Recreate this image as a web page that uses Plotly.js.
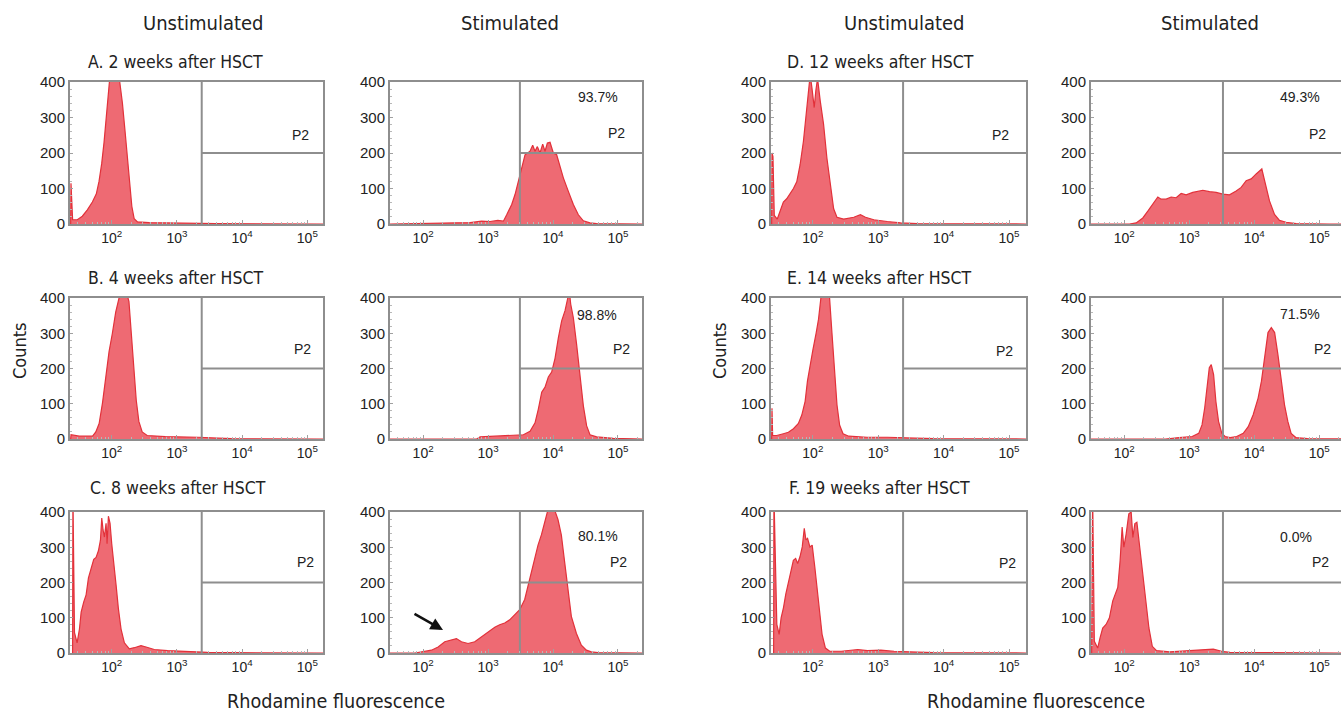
<!DOCTYPE html>
<html><head><meta charset="utf-8">
<script src="https://cdn.plot.ly/plotly-3.0.1.min.js"></script>
<style>html,body{margin:0;padding:0;background:#fff;}#chart{width:1341px;height:717px;}</style>
</head><body><div id="chart"></div>
<script>
// ---- Data: log10(Rhodamine fluorescence) positions and event counts ----
const aUnstimLog = [1.37,1.375,1.40,1.472,1.549,1.626,1.703,1.764,1.805,1.846,1.882,1.918,1.949,1.974,2.036,2.087,2.123,2.164,2.205,2.241,2.277,2.308,2.344,2.395,2.574,2.83,3.138,3.344,3.6,5.24];
const aUnstimCounts = [0,115,12,12,22,40,62,85,120,170,230,300,360,420,470,440,400,340,260,180,110,50,15,6,4,3,3,2,1,0];
const aStimLog = [1.49,2.108,2.723,2.9,3.031,3.15,3.236,3.287,3.364,3.415,3.467,3.518,3.569,3.646,3.687,3.723,3.759,3.8,3.841,3.877,3.913,3.954,4.005,4.056,4.108,4.159,4.236,4.313,4.39,4.467,4.569,4.672,5.37];
const aStimCounts = [0,1,4,8,7,10,8,26,55,83,120,158,195,205,222,205,218,200,225,205,228,230,200,195,158,130,92,55,26,9,3,1,0];

const bUnstimLog = [1.37,1.376,1.503,1.706,1.756,1.807,1.858,1.909,1.959,2.01,2.061,2.112,2.162,2.213,2.264,2.3,2.34,2.376,2.416,2.467,2.543,2.822,3.33,3.584,3.838,5.24];
const bUnstimCounts = [0,12,8,8,20,44,102,170,248,300,360,400,430,425,390,300,200,110,50,20,10,7,5,3,1,0];
const bStimLog = [1.49,2.826,2.877,3.133,3.441,3.544,3.646,3.723,3.774,3.826,3.877,3.928,3.979,4.031,4.082,4.133,4.185,4.221,4.251,4.272,4.313,4.364,4.415,4.467,4.518,4.569,4.672,4.928,5.37];
const bStimCounts = [0,0,6,8,10,12,22,46,85,133,147,176,190,229,287,335,364,400,420,383,344,267,171,94,37,12,6,2,0];

const cUnstimLog = [1.40,1.405,1.429,1.469,1.505,1.531,1.571,1.607,1.643,1.684,1.724,1.76,1.796,1.827,1.847,1.867,1.888,1.913,1.929,1.949,1.974,2.0,2.031,2.066,2.102,2.143,2.194,2.27,2.347,2.449,2.526,2.653,2.857,3.163,3.469,3.878,5.24];
const cUnstimCounts = [0,450,58,29,68,116,145,165,213,242,266,271,290,320,383,349,329,368,310,388,368,310,262,194,126,68,29,12,15,21,17,10,7,4,2,1,0];
const cStimLog = [1.49,1.872,2.128,2.231,2.333,2.436,2.513,2.59,2.692,2.795,2.897,2.999,3.103,3.179,3.256,3.333,3.41,3.487,3.564,3.615,3.667,3.718,3.769,3.821,3.872,3.913,3.974,4.026,4.077,4.128,4.179,4.231,4.282,4.359,4.436,4.513,4.59,4.692,5.37];
const cStimCounts = [0,0,8,17,32,37,41,32,27,32,46,61,73,80,85,94,109,123,152,190,229,267,306,335,373,400,420,405,378,335,258,171,104,56,22,8,3,1,0];

const dUnstimLog = [1.37,1.375,1.39,1.41,1.456,1.497,1.549,1.6,1.651,1.703,1.754,1.805,1.856,1.897,1.933,1.959,1.985,2.021,2.046,2.072,2.113,2.164,2.215,2.267,2.318,2.369,2.472,2.626,2.728,2.805,2.933,3.138,3.344,3.6,5.26];
const dUnstimCounts = [0,200,190,24,14,33,62,71,86,100,119,167,233,309,376,420,385,328,376,410,347,281,186,110,43,19,14,19,26,19,12,7,3,1,0];
const dStimLog = [1.49,2.082,2.185,2.287,2.364,2.441,2.518,2.569,2.646,2.723,2.8,2.877,2.954,3.056,3.133,3.21,3.313,3.415,3.518,3.621,3.723,3.8,3.877,3.954,4.031,4.082,4.118,4.149,4.185,4.236,4.313,4.39,4.492,4.646,5.159,5.4];
const dStimCounts = [0,0,3,17,36,55,76,70,70,76,74,86,82,89,91,95,91,89,84,82,93,103,122,127,141,150,155,131,103,65,27,10,5,1,0,0];

const eUnstimLog = [1.37,1.375,1.385,1.446,1.549,1.626,1.703,1.779,1.831,1.882,1.918,1.959,2.0,2.051,2.087,2.123,2.164,2.215,2.256,2.292,2.328,2.369,2.41,2.462,2.549,2.831,3.138,3.446,3.856,5.26];
const eUnstimCounts = [0,87,10,10,15,19,29,44,68,107,165,214,252,301,340,400,420,420,400,301,194,97,39,15,8,5,5,3,1,0];
const eStimLog = [1.49,2.64,2.843,3.046,3.147,3.198,3.239,3.274,3.31,3.34,3.376,3.411,3.452,3.503,3.553,3.629,3.731,3.832,3.909,3.985,4.061,4.112,4.162,4.213,4.264,4.315,4.365,4.416,4.467,4.518,4.569,4.645,4.822,5.4];
const eStimCounts = [0,0,4,7,16,40,88,154,202,211,183,107,50,16,7,4,7,16,35,69,116,164,230,302,316,302,240,164,97,50,16,4,1,0];

const fUnstimLog = [1.40,1.405,1.449,1.485,1.515,1.551,1.586,1.626,1.667,1.702,1.737,1.768,1.803,1.838,1.869,1.894,1.919,1.955,1.99,2.03,2.071,2.106,2.141,2.192,2.258,2.434,2.687,2.838,3.04,3.242,3.444,3.848,5.26];
const fUnstimCounts = [0,450,81,53,100,129,167,196,234,263,268,254,273,301,354,321,325,301,306,244,167,110,53,14,5,5,10,7,8,5,3,1,0];
const fStimLog = [1.50,1.515,1.541,1.593,1.629,1.67,1.722,1.773,1.825,1.866,1.902,1.938,1.969,1.995,2.031,2.072,2.108,2.134,2.165,2.196,2.227,2.263,2.299,2.34,2.381,2.433,2.495,2.701,3.01,3.216,3.371,3.5,3.629,4.144,5.4];
const fStimCounts = [0,450,33,14,43,71,81,100,148,167,186,262,357,300,338,395,400,328,367,371,319,262,214,148,71,19,7,3,7,10,11,5,2,1,0];

const panelTitles = ['A. 2 weeks after HSCT','B. 4 weeks after HSCT','C. 8 weeks after HSCT','D. 12 weeks after HSCT','E. 14 weeks after HSCT','F. 19 weeks after HSCT'];
const positivePct = ['93.7%','98.8%','80.1%','49.3%','71.5%','0.0%'];
const gateLabel = 'P2';
const columnHeads = ['Unstimulated','Stimulated','Unstimulated','Stimulated'];
const gateLogByColumn = [3.38, 3.49, 3.38, 3.52];
const gateCount = 200;
const yTickVals = [0,100,200,300,400];
const xTickVals = [100,1000,10000,100000];
const xTickText = ['10<sup>2</sup>','10<sup>3</sup>','10<sup>4</sup>','10<sup>5</sup>'];

const unstimSeries = [[aUnstimLog,aUnstimCounts],[bUnstimLog,bUnstimCounts],[cUnstimLog,cUnstimCounts],[dUnstimLog,dUnstimCounts],[eUnstimLog,eUnstimCounts],[fUnstimLog,fUnstimCounts]];
const stimSeries = [[aStimLog,aStimCounts],[bStimLog,bStimCounts],[cStimLog,cStimCounts],[dStimLog,dStimCounts],[eStimLog,eStimCounts],[fStimLog,fStimCounts]];

// ---- Layout geometry (pixels) ----
const W = 1341, H = 717;
const colPx = [[70,323],[390,642],[771,1026],[1091,1341]];
const rowPx = [[82,224],[298,439],[512,653]];
const colRange = [[1.36,5.24],[1.49,5.37],[1.36,5.26],[1.49,5.336]];
const NARROW = 'DejaVu Sans Condensed, Liberation Sans, sans-serif';
const REG = 'Liberation Sans, Arial, sans-serif';
const TXT = '#222';
const GRAY = '#8e8e8e';
const px = v => v / W;
const py = v => 1 - v / H;

const traces = [];
const layout = {
  width: W, height: H, margin: {l:0,r:0,t:0,b:0},
  paper_bgcolor: '#fff', plot_bgcolor: '#fff', showlegend: false,
  annotations: [], hovermode: false
};

let k = 0;
function addPanel(series, col, row) {
  k += 1;
  const xa = 'x' + k, ya = 'y' + k;
  const [lx, cnt] = series;
  traces.push({
    type: 'scatter', mode: 'lines', x: lx.map(v => Math.pow(10, v)), y: cnt,
    xaxis: xa, yaxis: ya, fill: 'tozeroy', fillcolor: '#ee6a73',
    line: {color: '#e2313a', width: 1.2}, hoverinfo: 'skip'
  });
  const g = Math.pow(10, gateLogByColumn[col]);
  traces.push({type:'scatter', mode:'lines', x:[g,g], y:[0,400], xaxis:xa, yaxis:ya,
    line:{color:GRAY, width:2}, hoverinfo:'skip'});
  traces.push({type:'scatter', mode:'lines', x:[g,1e7], y:[gateCount,gateCount], xaxis:xa, yaxis:ya,
    line:{color:GRAY, width:2}, hoverinfo:'skip'});
  layout['xaxis' + k] = {
    domain: [px(colPx[col][0]), px(colPx[col][1])], anchor: ya, type: 'log',
    range: colRange[col], tickvals: xTickVals, ticktext: xTickText,
    showline: true, mirror: true, linecolor: GRAY, linewidth: 2,
    showgrid: false, zeroline: false, ticks: 'inside', ticklen: 4, tickcolor: '#a0a0a0',
    minor: {ticks: 'inside', ticklen: 2, tickcolor: '#b8b8b8', dtick: 'D1', showgrid: false},
    tickfont: {family: REG, size: 14, color: TXT}, fixedrange: true
  };
  layout['yaxis' + k] = {
    domain: [py(rowPx[row][1]), py(rowPx[row][0])], anchor: xa, range: [0, 400],
    tickvals: yTickVals, showline: true, mirror: col === 3 ? false : true,
    linecolor: GRAY, linewidth: 2, showgrid: false, zeroline: false,
    ticks: 'inside', ticklen: 3, tickcolor: '#a0a0a0',
    minor: {ticks: 'inside', ticklen: 2, tickcolor: '#b8b8b8', dtick: 20},
    tickfont: {family: REG, size: 15, color: TXT}, fixedrange: true
  };
}

const ann = (text, x, y, size, fam, extra) => layout.annotations.push(Object.assign({
  text, x: px(x), y: py(y), xref: 'paper', yref: 'paper', showarrow: false,
  xanchor: 'center', yanchor: 'middle', font: {family: fam, size, color: TXT}
}, extra || {}));

const unstimP2 = [[300,135],[302,349],[305,562],[1000,135],[1004,351],[1007,563]];
const stimP2 = [[616,133],[621,349],[618,562],[1317,134],[1322,349],[1320,562]];
const stimPct = [[598,97],[597,315],[598,536],[1300,97],[1300,314],[1296,537]];
const labelPos = [[86,62],[86,278],[88,488],[785,62],[785,278],[787,488]];

for (let p = 0; p < 6; p++) {
  const side = p < 3 ? 0 : 1, row = p % 3;
  addPanel(unstimSeries[p], side * 2, row);
  addPanel(stimSeries[p], side * 2 + 1, row);
  ann(panelTitles[p], labelPos[p][0], labelPos[p][1], 17.5, NARROW, {xanchor: 'left'});
  ann(gateLabel, unstimP2[p][0], unstimP2[p][1], 14, REG);
  ann(gateLabel, stimP2[p][0], stimP2[p][1], 14, REG);
  ann(positivePct[p], stimPct[p][0], stimPct[p][1], 14, REG);
}

const headX = [203, 510, 904, 1210];
columnHeads.forEach((t, i) => ann(t, headX[i], 23, 20, NARROW));
ann('Counts', 19, 351, 18, NARROW, {textangle: -90});
ann('Counts', 719, 351, 18, NARROW, {textangle: -90});
ann('Rhodamine fluorescence', 336, 701, 19.6, NARROW);
ann('Rhodamine fluorescence', 1036, 701, 19.6, NARROW);
// arrow in panel C (stimulated)
layout.annotations.push({text: '', x: px(443), y: py(630), xref: 'paper', yref: 'paper',
  showarrow: true, ax: -30, ay: -17, arrowhead: 2, arrowsize: 1, arrowwidth: 2.5, arrowcolor: '#111'});

Plotly.newPlot('chart', traces, layout, {staticPlot: true, displayModeBar: false});
</script></body></html>
